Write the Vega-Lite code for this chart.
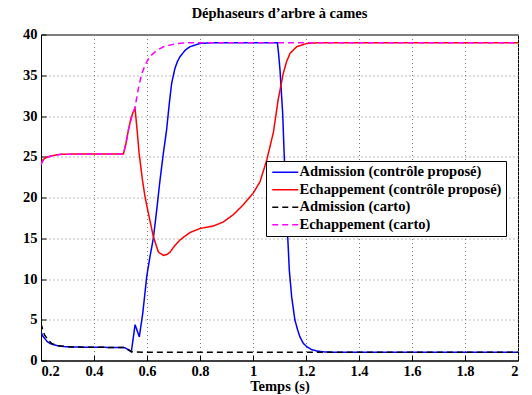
{
  "$schema": "https://vega.github.io/schema/vega-lite/v6.json",
  "width": 477,
  "height": 326,
  "autosize": {"type": "none"},
  "padding": {"left": 41, "top": 34.5, "right": 14, "bottom": 34.5},
  "background": "white",
  "title": {"text": "Déphaseurs d’arbre à cames", "font": "Liberation Serif", "fontSize": 14.5, "fontWeight": "bold", "color": "black", "offset": 5},
  "data": {"values": [
    {"s": "Admission (contrôle proposé)", "t": 0.2, "v": 3.5},
    {"s": "Admission (contrôle proposé)", "t": 0.207, "v": 3.0},
    {"s": "Admission (contrôle proposé)", "t": 0.214, "v": 2.7},
    {"s": "Admission (contrôle proposé)", "t": 0.223, "v": 2.35},
    {"s": "Admission (contrôle proposé)", "t": 0.233, "v": 2.1},
    {"s": "Admission (contrôle proposé)", "t": 0.245, "v": 1.95},
    {"s": "Admission (contrôle proposé)", "t": 0.264, "v": 1.8},
    {"s": "Admission (contrôle proposé)", "t": 0.29, "v": 1.7},
    {"s": "Admission (contrôle proposé)", "t": 0.314, "v": 1.66},
    {"s": "Admission (contrôle proposé)", "t": 0.4, "v": 1.62},
    {"s": "Admission (contrôle proposé)", "t": 0.5, "v": 1.6},
    {"s": "Admission (contrôle proposé)", "t": 0.515, "v": 1.58},
    {"s": "Admission (contrôle proposé)", "t": 0.528, "v": 1.35},
    {"s": "Admission (contrôle proposé)", "t": 0.541, "v": 1.08},
    {"s": "Admission (contrôle proposé)", "t": 0.555, "v": 4.4},
    {"s": "Admission (contrôle proposé)", "t": 0.571, "v": 2.9},
    {"s": "Admission (contrôle proposé)", "t": 0.584, "v": 5.8},
    {"s": "Admission (contrôle proposé)", "t": 0.599, "v": 10.3},
    {"s": "Admission (contrôle proposé)", "t": 0.611, "v": 12.7},
    {"s": "Admission (contrôle proposé)", "t": 0.624, "v": 15.0},
    {"s": "Admission (contrôle proposé)", "t": 0.636, "v": 18.3},
    {"s": "Admission (contrôle proposé)", "t": 0.649, "v": 22.1},
    {"s": "Admission (contrôle proposé)", "t": 0.662, "v": 25.5},
    {"s": "Admission (contrôle proposé)", "t": 0.674, "v": 28.3},
    {"s": "Admission (contrôle proposé)", "t": 0.684, "v": 31.5},
    {"s": "Admission (contrôle proposé)", "t": 0.693, "v": 34.0},
    {"s": "Admission (contrôle proposé)", "t": 0.705, "v": 35.8},
    {"s": "Admission (contrôle proposé)", "t": 0.715, "v": 36.7},
    {"s": "Admission (contrôle proposé)", "t": 0.725, "v": 37.3},
    {"s": "Admission (contrôle proposé)", "t": 0.745, "v": 38.1},
    {"s": "Admission (contrôle proposé)", "t": 0.762, "v": 38.5},
    {"s": "Admission (contrôle proposé)", "t": 0.8, "v": 38.9},
    {"s": "Admission (contrôle proposé)", "t": 0.85, "v": 39.0},
    {"s": "Admission (contrôle proposé)", "t": 1.092, "v": 39.0},
    {"s": "Admission (contrôle proposé)", "t": 1.097, "v": 37.5},
    {"s": "Admission (contrôle proposé)", "t": 1.102, "v": 35.6},
    {"s": "Admission (contrôle proposé)", "t": 1.112, "v": 30.3},
    {"s": "Admission (contrôle proposé)", "t": 1.118, "v": 25.0},
    {"s": "Admission (contrôle proposé)", "t": 1.125, "v": 20.1},
    {"s": "Admission (contrôle proposé)", "t": 1.131, "v": 15.2},
    {"s": "Admission (contrôle proposé)", "t": 1.137, "v": 11.1},
    {"s": "Admission (contrôle proposé)", "t": 1.146, "v": 7.8},
    {"s": "Admission (contrôle proposé)", "t": 1.158, "v": 5.0},
    {"s": "Admission (contrôle proposé)", "t": 1.168, "v": 3.8},
    {"s": "Admission (contrôle proposé)", "t": 1.177, "v": 2.9},
    {"s": "Admission (contrôle proposé)", "t": 1.19, "v": 2.1},
    {"s": "Admission (contrôle proposé)", "t": 1.203, "v": 1.7},
    {"s": "Admission (contrôle proposé)", "t": 1.22, "v": 1.35},
    {"s": "Admission (contrôle proposé)", "t": 1.24, "v": 1.17},
    {"s": "Admission (contrôle proposé)", "t": 1.27, "v": 1.05},
    {"s": "Admission (contrôle proposé)", "t": 1.3, "v": 1.02},
    {"s": "Admission (contrôle proposé)", "t": 1.4, "v": 1.0},
    {"s": "Admission (contrôle proposé)", "t": 2.0, "v": 1.0},

    {"s": "Echappement (contrôle proposé)", "t": 0.2, "v": 24.2},
    {"s": "Echappement (contrôle proposé)", "t": 0.207, "v": 24.6},
    {"s": "Echappement (contrôle proposé)", "t": 0.214, "v": 24.8},
    {"s": "Echappement (contrôle proposé)", "t": 0.225, "v": 25.0},
    {"s": "Echappement (contrôle proposé)", "t": 0.239, "v": 25.1},
    {"s": "Echappement (contrôle proposé)", "t": 0.26, "v": 25.25},
    {"s": "Echappement (contrôle proposé)", "t": 0.277, "v": 25.3},
    {"s": "Echappement (contrôle proposé)", "t": 0.35, "v": 25.35},
    {"s": "Echappement (contrôle proposé)", "t": 0.511, "v": 25.35},
    {"s": "Echappement (contrôle proposé)", "t": 0.52, "v": 26.5},
    {"s": "Echappement (contrôle proposé)", "t": 0.53, "v": 28.3},
    {"s": "Echappement (contrôle proposé)", "t": 0.54, "v": 29.8},
    {"s": "Echappement (contrôle proposé)", "t": 0.548, "v": 30.5},
    {"s": "Echappement (contrôle proposé)", "t": 0.555, "v": 30.9},
    {"s": "Echappement (contrôle proposé)", "t": 0.562, "v": 28.5},
    {"s": "Echappement (contrôle proposé)", "t": 0.57, "v": 25.5},
    {"s": "Echappement (contrôle proposé)", "t": 0.583, "v": 22.1},
    {"s": "Echappement (contrôle proposé)", "t": 0.593, "v": 20.0},
    {"s": "Echappement (contrôle proposé)", "t": 0.605, "v": 18.1},
    {"s": "Echappement (contrôle proposé)", "t": 0.624, "v": 15.2},
    {"s": "Echappement (contrôle proposé)", "t": 0.643, "v": 13.3},
    {"s": "Echappement (contrôle proposé)", "t": 0.662, "v": 12.9},
    {"s": "Echappement (contrôle proposé)", "t": 0.675, "v": 13.0},
    {"s": "Echappement (contrôle proposé)", "t": 0.687, "v": 13.3},
    {"s": "Echappement (contrôle proposé)", "t": 0.705, "v": 14.1},
    {"s": "Echappement (contrôle proposé)", "t": 0.725, "v": 14.8},
    {"s": "Echappement (contrôle proposé)", "t": 0.745, "v": 15.3},
    {"s": "Echappement (contrôle proposé)", "t": 0.762, "v": 15.7},
    {"s": "Echappement (contrôle proposé)", "t": 0.8, "v": 16.2},
    {"s": "Echappement (contrôle proposé)", "t": 0.85, "v": 16.5},
    {"s": "Echappement (contrôle proposé)", "t": 0.888, "v": 17.0},
    {"s": "Echappement (contrôle proposé)", "t": 0.926, "v": 17.9},
    {"s": "Echappement (contrôle proposé)", "t": 0.963, "v": 19.1},
    {"s": "Echappement (contrôle proposé)", "t": 1.0, "v": 20.5},
    {"s": "Echappement (contrôle proposé)", "t": 1.026, "v": 21.9},
    {"s": "Echappement (contrôle proposé)", "t": 1.052, "v": 24.6},
    {"s": "Echappement (contrôle proposé)", "t": 1.077, "v": 28.0},
    {"s": "Echappement (contrôle proposé)", "t": 1.095, "v": 32.0},
    {"s": "Echappement (contrôle proposé)", "t": 1.114, "v": 35.2},
    {"s": "Echappement (contrôle proposé)", "t": 1.127, "v": 36.7},
    {"s": "Echappement (contrôle proposé)", "t": 1.14, "v": 37.7},
    {"s": "Echappement (contrôle proposé)", "t": 1.165, "v": 38.5},
    {"s": "Echappement (contrôle proposé)", "t": 1.203, "v": 38.9},
    {"s": "Echappement (contrôle proposé)", "t": 1.25, "v": 39.0},
    {"s": "Echappement (contrôle proposé)", "t": 2.0, "v": 39.0},

    {"s": "Admission (carto)", "t": 0.2, "v": 4.55},
    {"s": "Admission (carto)", "t": 0.207, "v": 3.7},
    {"s": "Admission (carto)", "t": 0.214, "v": 3.1},
    {"s": "Admission (carto)", "t": 0.228, "v": 2.5},
    {"s": "Admission (carto)", "t": 0.24, "v": 2.1},
    {"s": "Admission (carto)", "t": 0.264, "v": 1.8},
    {"s": "Admission (carto)", "t": 0.314, "v": 1.66},
    {"s": "Admission (carto)", "t": 0.4, "v": 1.62},
    {"s": "Admission (carto)", "t": 0.5, "v": 1.6},
    {"s": "Admission (carto)", "t": 0.515, "v": 1.58},
    {"s": "Admission (carto)", "t": 0.528, "v": 1.35},
    {"s": "Admission (carto)", "t": 0.541, "v": 1.08},
    {"s": "Admission (carto)", "t": 0.553, "v": 1.05},
    {"s": "Admission (carto)", "t": 0.6, "v": 1.0},
    {"s": "Admission (carto)", "t": 2.0, "v": 1.0},

    {"s": "Echappement (carto)", "t": 0.2, "v": 24.0},
    {"s": "Echappement (carto)", "t": 0.207, "v": 24.5},
    {"s": "Echappement (carto)", "t": 0.214, "v": 24.8},
    {"s": "Echappement (carto)", "t": 0.239, "v": 25.1},
    {"s": "Echappement (carto)", "t": 0.277, "v": 25.3},
    {"s": "Echappement (carto)", "t": 0.511, "v": 25.35},
    {"s": "Echappement (carto)", "t": 0.52, "v": 26.6},
    {"s": "Echappement (carto)", "t": 0.53, "v": 28.3},
    {"s": "Echappement (carto)", "t": 0.542, "v": 29.8},
    {"s": "Echappement (carto)", "t": 0.555, "v": 31.1},
    {"s": "Echappement (carto)", "t": 0.567, "v": 33.3},
    {"s": "Echappement (carto)", "t": 0.58, "v": 35.2},
    {"s": "Echappement (carto)", "t": 0.595, "v": 36.4},
    {"s": "Echappement (carto)", "t": 0.611, "v": 37.3},
    {"s": "Echappement (carto)", "t": 0.635, "v": 38.0},
    {"s": "Echappement (carto)", "t": 0.662, "v": 38.5},
    {"s": "Echappement (carto)", "t": 0.712, "v": 38.9},
    {"s": "Echappement (carto)", "t": 0.76, "v": 39.0},
    {"s": "Echappement (carto)", "t": 2.0, "v": 39.0}
  ]},
  "mark": {"type": "line", "strokeWidth": 1.5, "clip": true},
  "encoding": {
    "x": {"field": "t", "type": "quantitative",
      "scale": {"domain": [0.2, 2], "nice": false, "zero": false},
      "axis": {"values": [0.2, 0.4, 0.6, 0.8, 1, 1.2, 1.4, 1.6, 1.8, 2], "format": "~g", "title": "Temps (s)", "titlePadding": 1}},
    "y": {"field": "v", "type": "quantitative",
      "scale": {"domain": [0, 40], "nice": false},
      "axis": {"values": [0, 5, 10, 15, 20, 25, 30, 35, 40], "title": null}},
    "color": {"field": "s", "type": "nominal",
      "scale": {"domain": ["Admission (contrôle proposé)", "Echappement (contrôle proposé)", "Admission (carto)", "Echappement (carto)"],
                "range": ["#0000ff", "#ff0000", "#000000", "#ff00ff"]},
      "legend": {"title": null}},
    "strokeDash": {"field": "s", "type": "nominal",
      "scale": {"domain": ["Admission (contrôle proposé)", "Echappement (contrôle proposé)", "Admission (carto)", "Echappement (carto)"],
                "range": [[1, 0], [1, 0], [6, 4], [6, 4]]},
      "legend": {"title": null}}
  },
  "config": {
    "view": {"stroke": "black", "strokeWidth": 1},
    "axis": {
      "labelFont": "Liberation Serif", "labelFontWeight": "bold", "labelFontSize": 14.5, "labelColor": "black",
      "titleFont": "Liberation Serif", "titleFontWeight": "bold", "titleFontSize": 14.5, "titleColor": "black",
      "domainColor": "black", "tickColor": "black", "tickSize": -5, "labelPadding": 9,
      "grid": true, "gridDash": [1, 3], "gridColor": "#777777", "gridOpacity": 1, "gridWidth": 1
    },
    "legend": {
      "orient": "none", "legendX": 225, "legendY": 126.5,
      "padding": 4, "strokeColor": "black", "fillColor": "white",
      "labelFont": "Liberation Serif", "labelFontWeight": "bold", "labelFontSize": 14.5, "labelColor": "black",
      "symbolType": "M-2.6,0H2.6", "symbolSize": 100, "symbolOffset": 8, "symbolStrokeWidth": 1.5, "labelOffset": 7, "rowPadding": 2.5,
      "labelLimit": 400
    }
  }
}
